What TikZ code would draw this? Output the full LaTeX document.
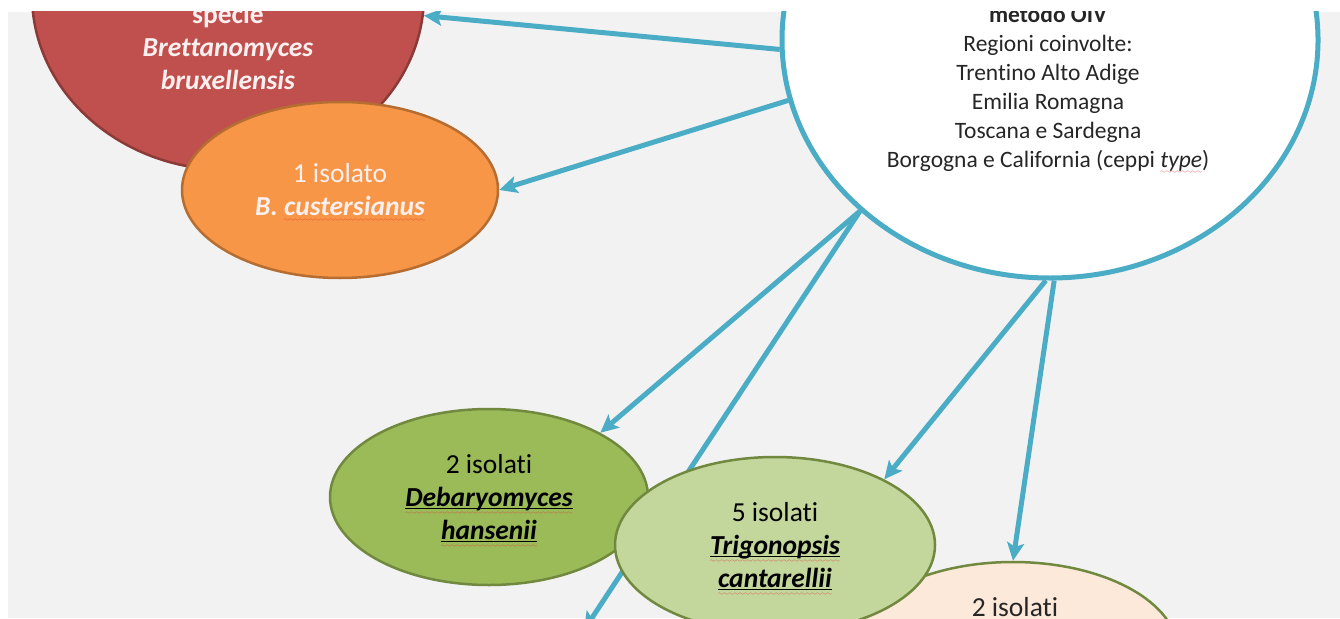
\documentclass[tikz,border=0pt]{standalone}
\usepackage{fontspec}
\setmainfont[Ligatures=NoCommon]{Carlito}
\usetikzlibrary{arrows.meta,shapes.geometric,positioning}

\definecolor{slidebg}{HTML}{F2F2F2}
\definecolor{linkblue}{HTML}{4BACC6}
\definecolor{brettred}{HTML}{C0504D}
\definecolor{brettedge}{HTML}{8C3A38}
\definecolor{custorange}{HTML}{F79646}
\definecolor{custedge}{HTML}{B66D31}
\definecolor{debgreen}{HTML}{9BBB59}
\definecolor{trigreen}{HTML}{C3D69B}
\definecolor{greenedge}{HTML}{71893F}
\definecolor{peachfill}{HTML}{FDE9D9}
\definecolor{darktext}{HTML}{262626}
\definecolor{paletext}{HTML}{FBEFEF}
\definecolor{spellred}{HTML}{E03030}

\pgfdeclarelayer{back}
\pgfdeclarelayer{links}
\pgfsetlayers{back,links,main}

% spell-check wave and underline under species names
\font\wavefont=lasy6
\newsavebox{\specbox}
\newcommand{\wavebar}{\textcolor{spellred}{\hbox to\wd\specbox{\xleaders\hbox{\wavefont\char58}\hfil}}}
\newcommand{\spellwave}[1]{\sbox{\specbox}{#1}\smash{\rlap{\raisebox{-6pt}{\wavebar}}}\usebox{\specbox}}
\newcommand{\specul}[1]{\sbox{\specbox}{#1}\smash{\rlap{\rule[-3pt]{\wd\specbox}{1.3pt}}}\smash{\rlap{\raisebox{-8pt}{\wavebar}}}\usebox{\specbox}}

\begin{document}
\begin{tikzpicture}[x=1pt, y=-1pt, >={Stealth[length=18pt, width=17pt, inset=4pt]},
  bubble/.style={ellipse, inner sep=0pt, line width=2.5pt, align=center,
    font=\fontsize{27.5}{33}\selectfont},
  link/.style={->, draw=linkblue, line width=5pt},
  regions/.style={align=center, text=darktext, font=\fontsize{23.5}{29}\selectfont}]
  \useasboundingbox (0,0) rectangle (1340,618);
  \begin{pgfonlayer}{back}
    \fill[white] (0,0) rectangle (1340,618);
    \fill[slidebg] (8,12) rectangle (1340,618);
  \end{pgfonlayer}

  \begin{scope}
    \clip (8,12) rectangle (1340,618);
    % species bubbles
    \node[bubble, fill=brettred, draw=brettedge, minimum width=392, minimum height=350] (brett) at (228,-5) {};
    \node[bubble, text=paletext] (bretttext) at (228,47)
      {\textbf{specie}\\ \textbf{\textit{Brettanomyces}}\\ \textbf{\textit{bruxellensis}}};
    \node[bubble, fill=custorange, draw=custedge, text=paletext, minimum width=316, minimum height=176] (cust) at (340,190)
      {1 isolato\\ \textbf{\textit{B. \spellwave{custersianus}}}};
    % OIV circle
    \node[bubble, fill=white, draw=linkblue, line width=5pt, minimum width=536, minimum height=476] (oiv) at (1050,40) {};
    \node[regions] (oivtext) at (1048,89)
      {\textbf{metodo OIV}\\ Regioni coinvolte:\\ Trentino Alto Adige\\ Emilia Romagna\\ Toscana e Sardegna\\
       Borgogna e California (ceppi \textit{\spellwave{type}})};
    % lower bubbles
    \node[bubble, fill=debgreen, draw=greenedge, text=black, minimum width=318, minimum height=176] (deb) at (489,497)
      {2 isolati\\ \textbf{\textit{\specul{Debaryomyces}}}\\ \textbf{\textit{\specul{hansenii}}}};
    \node[bubble, fill=peachfill, draw=greenedge, minimum width=330, minimum height=180] (pink) at (1013,652) {};
    \node[bubble, text=darktext, anchor=base] (pinktext) at (1015,616) {2 isolati};
    \node[bubble, fill=trigreen, draw=greenedge, text=black, minimum width=320, minimum height=176] (trig) at (775,545)
      {5 isolati\\ \textbf{\textit{\specul{Trigonopsis}}}\\ \textbf{\textit{\specul{cantarellii}}}};
    \coordinate (offbottom) at (584,630);
  \end{scope}

  \begin{pgfonlayer}{links}
    \clip (8,12) rectangle (1340,618);
    \draw[link] (oiv.182) -- (brett.-6);
    \draw[link] (oiv.193) -- (cust.east);
    \draw[link] (oiv.222) -- (deb.30);
    \draw[link] (oiv.222) -- (offbottom);
    \draw[link] (oiv.269) -- (trig.31);
    \draw[link] (oiv.271) -- (pink.north);
  \end{pgfonlayer}
\end{tikzpicture}
\end{document}
